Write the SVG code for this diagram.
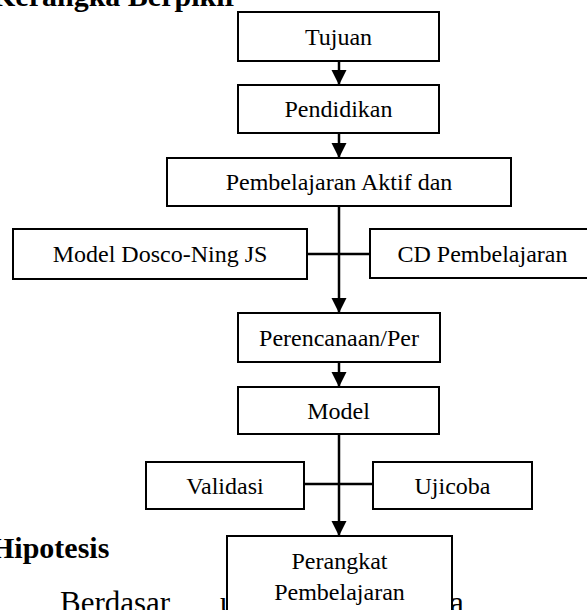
<svg xmlns="http://www.w3.org/2000/svg" width="587" height="610" viewBox="0 0 587 610">
<defs>
<style>
.box{fill:#fff;stroke:#000;stroke-width:2}
.lbl{font-family:"Liberation Serif","Times New Roman",serif;font-size:24px;fill:#000;text-anchor:middle}
.hd{font-family:"Liberation Serif","Times New Roman",serif;font-size:30px;font-weight:bold;fill:#000}
.body{font-family:"Liberation Serif","Times New Roman",serif;font-size:31px;fill:#000}
.ln{stroke:#000;stroke-width:2.5;fill:none}
</style>
<marker id="ah" markerUnits="userSpaceOnUse" markerWidth="16" markerHeight="16" refX="15" refY="7.5" orient="auto">
<path d="M0,0 L15,7.5 L0,15 z" fill="#000"/>
</marker>
</defs>
<rect width="587" height="610" fill="#fff"/>
<text class="hd" x="-8" y="6">Kerangka Berpikir</text>
<text class="hd" x="-9" y="558">Hipotesis</text>
<text class="body" x="60" y="613">Berdasar</text>
<text class="body" x="220" y="613">u</text>
<text class="body" x="450" y="613">a</text>
<g id="connectors">
<line class="ln" x1="339" y1="61" x2="339" y2="85" marker-end="url(#ah)"/>
<line class="ln" x1="339" y1="133" x2="339" y2="158" marker-end="url(#ah)"/>
<line class="ln" x1="339" y1="206" x2="339" y2="313" marker-end="url(#ah)"/>
<line class="ln" x1="339" y1="362" x2="339" y2="387" marker-end="url(#ah)"/>
<line class="ln" x1="339" y1="434" x2="339" y2="536" marker-end="url(#ah)"/>
<line class="ln" x1="307" y1="254" x2="370" y2="254"/>
<line class="ln" x1="304" y1="484" x2="373" y2="484"/>
</g>
<g id="tujuan"><rect class="box" x="238" y="12" width="201" height="49"/><text class="lbl" x="338.5" y="44.5">Tujuan</text></g>
<g id="pendidikan"><rect class="box" x="238" y="85" width="201" height="48"/><text class="lbl" x="338.5" y="117">Pendidikan</text></g>
<g id="pembelajaran-aktif"><rect class="box" x="167" y="158" width="344" height="48"/><text class="lbl" x="339" y="190">Pembelajaran Aktif dan</text></g>
<g id="model-dosco"><rect class="box" x="13" y="229" width="294" height="50"/><text class="lbl" x="160" y="262">Model Dosco-Ning JS</text></g>
<g id="cd-pembelajaran"><rect class="box" x="370" y="229" width="226" height="49"/><text class="lbl" x="482.5" y="262">CD Pembelajaran</text></g>
<g id="perencanaan"><rect class="box" x="238" y="313" width="202" height="49"/><text class="lbl" x="339" y="346">Perencanaan/Per</text></g>
<g id="model"><rect class="box" x="238" y="387" width="201" height="47"/><text class="lbl" x="338.5" y="419">Model</text></g>
<g id="validasi"><rect class="box" x="146" y="462" width="158" height="47"/><text class="lbl" x="225" y="494">Validasi</text></g>
<g id="ujicoba"><rect class="box" x="373" y="462" width="159" height="47"/><text class="lbl" x="452.5" y="494">Ujicoba</text></g>
<g id="perangkat"><rect class="box" x="227" y="536" width="225" height="90"/><text class="lbl" x="339.5" y="569">Perangkat</text><text class="lbl" x="339.5" y="600">Pembelajaran</text></g>
</svg>
